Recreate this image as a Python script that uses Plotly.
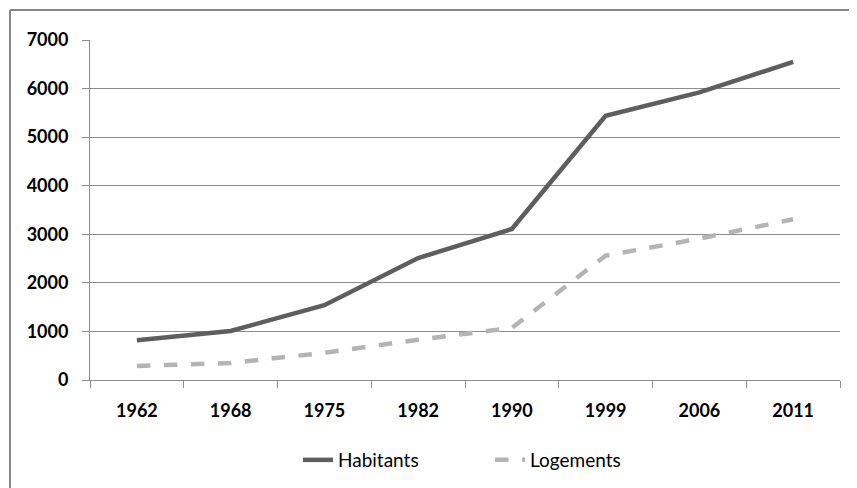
import plotly.graph_objects as go

years = ["1962", "1968", "1975", "1982", "1990", "1999", "2006", "2011"]
habitants = [820, 1010, 1540, 2510, 3110, 5440, 5920, 6550]
logements = [290, 350, 560, 830, 1070, 2560, 2910, 3310]
y_ticks = [0, 1000, 2000, 3000, 4000, 5000, 6000, 7000]

W, H = 857, 488
OFF = 8  # page body offset
# target plot area on page: x 90..840, y 40..380
ml, mt = 90 - OFF, 40 - OFF
mr = W - (840 - OFF)
mb = H - (380 - OFF)
pw, ph = W - ml - mr, H - mt - mb

fig = go.Figure()
fig.add_trace(go.Scatter(x=years, y=habitants, name="Habitants", mode="lines",
                         line=dict(color="#5e5e5e", width=4.5)))
fig.add_trace(go.Scatter(x=years, y=logements, name="Logements", mode="lines",
                         line=dict(color="#b4b4b4", width=4.5, dash="dash")))

font = dict(family="Lato, 'Open Sans', sans-serif", size=19, color="#000000")
tick_font = dict(family="Lato, 'Open Sans', sans-serif", size=18, color="#000000", weight="bold")

def px_x(page_x):
    return (page_x - OFF - ml) / pw

def px_y(page_y):
    return 1 - (page_y - OFF - mt) / ph

fig.update_layout(
    width=W, height=H,
    margin=dict(l=ml, r=mr, t=mt, b=mb),
    paper_bgcolor="white", plot_bgcolor="white",
    font=font,
    showlegend=True,
    legend=dict(orientation="h", x=px_x(298), xanchor="left",
                y=px_y(460), yanchor="middle",
                font=font, entrywidth=147, bgcolor="rgba(0,0,0,0)"),
    xaxis=dict(type="category", range=[-0.5, 7.5], tickson="boundaries", ticks="outside", ticklen=7,
               tickcolor="#8c8c8c", showline=True, linecolor="#8c8c8c", linewidth=1,
               showgrid=False, tickfont=tick_font, ticklabelstandoff=14, fixedrange=True),
    yaxis=dict(range=[0, 7000], tickvals=y_ticks, ticks="outside", ticklen=7,
               tickcolor="#8c8c8c", showline=True, linecolor="#8c8c8c", linewidth=1,
               showgrid=True, gridcolor="#8c8c8c", gridwidth=1, zeroline=False,
               tickfont=tick_font, ticklabelstandoff=10, fixedrange=True),
)

# chart frame (top and left borders)
bx = px_x(10)
by = px_y(10)
fig.add_shape(type="line", xref="paper", yref="paper", x0=bx, x1=bx, y0=-2, y1=by,
              line=dict(color="#868686", width=2))
fig.add_shape(type="line", xref="paper", yref="paper", x0=bx, x1=2, y0=by, y1=by,
              line=dict(color="#868686", width=2))

fig.write_html("out.html")
